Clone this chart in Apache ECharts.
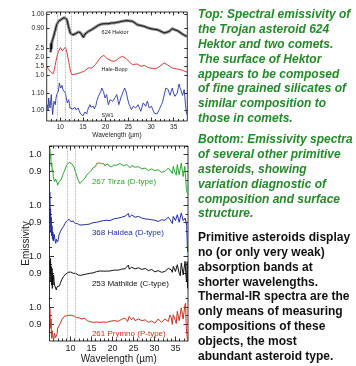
<!DOCTYPE html>
<html>
<head>
<meta charset="utf-8">
<title>Emissivity spectra of primitive asteroids</title>
<script src="https://cdn.jsdelivr.net/npm/echarts@6.0.0/dist/echarts.min.js"></script>
<style>
  html, body { margin: 0; padding: 0; background: #fff; }
  #wrap { position: relative; width: 356px; height: 366px; overflow: hidden; }
  #edge { position: absolute; left: 15px; top: 0; width: 2.5px; height: 366px; background: #8a8a8a; }
  #chart { position: absolute; left: 0; top: 0; width: 356px; height: 366px; }
</style>
</head>
<body>
<div id="wrap">
  <div id="edge"></div>
  <div id="chart"></div>
</div>
<script>
// ---- top panel: 624 Hektor and two comets ----
const topRange = [7, 38];
const topMajorTicks = [10, 15, 20, 25, 30, 35];
const topMinorTicks = [8, 9, 11, 12, 13, 14, 16, 17, 18, 19, 21, 22, 23, 24, 26, 27, 28, 29, 31, 32, 33, 34, 36, 37];
const topFeatureLines = [9.3, 11.2, 12.5];
const hektorTicks = [0.90, 1.00];
const haleBoppTicks = [1.0, 1.5, 2.0, 2.5];
const sw1Ticks = [1.00, 1.10];

// [wavelength µm, emissivity]
const hektor = [
  [7.88, 0.74], [7.95, 0.80], [8.05, 0.76], [8.15, 0.81], [8.3, 0.825], [8.45, 0.84], [8.6, 0.855],
  [8.75, 0.875], [8.9, 0.89], [9.05, 0.91], [9.2, 0.927], [9.4, 0.94], [9.6, 0.95], [9.8, 0.955],
  [10.0, 0.96], [10.2, 0.963], [10.4, 0.968], [10.6, 0.972], [10.8, 0.975], [11.0, 0.977], [11.2, 0.978],
  [11.4, 0.965], [11.6, 0.945], [11.8, 0.915], [12.0, 0.893], [12.2, 0.87], [12.4, 0.86], [12.7, 0.859],
  [13.0, 0.866], [13.25, 0.864], [13.6, 0.872], [14.0, 0.878], [14.5, 0.871], [14.8, 0.86], [15.1, 0.841],
  [15.45, 0.864], [15.8, 0.875], [16.2, 0.882], [16.6, 0.888], [16.9, 0.893], [17.3, 0.9], [17.7, 0.909],
  [18.0, 0.915], [18.4, 0.923], [18.8, 0.928], [19.1, 0.932], [19.5, 0.933], [19.9, 0.934], [20.3, 0.935],
  [20.6, 0.934], [21.0, 0.937], [21.3, 0.939], [21.9, 0.939], [22.4, 0.943], [23.0, 0.946], [23.5, 0.95],
  [24.0, 0.952], [24.5, 0.955], [24.8, 0.955], [25.4, 0.952], [25.9, 0.95], [26.5, 0.938], [27.0, 0.927],
  [27.7, 0.922], [28.5, 0.916], [29.2, 0.907], [30.0, 0.9], [30.7, 0.896], [31.4, 0.893], [32.2, 0.882],
  [32.9, 0.871], [33.5, 0.876], [34.0, 0.882], [34.7, 0.9], [35.3, 0.892], [35.8, 0.887], [36.4, 0.875],
  [36.9, 0.864], [37.4, 0.855], [37.9, 0.848]
];
const haleBopp = [
  [7.0, 1.5], [7.4, 1.35], [7.8, 1.22], [8.1, 1.13], [8.35, 1.1], [8.6, 1.25], [8.85, 1.55], [9.1, 1.85],
  [9.35, 2.12], [9.6, 2.32], [9.8, 2.42], [10.05, 2.52], [10.25, 2.45], [10.45, 2.35], [10.65, 2.38],
  [10.85, 2.44], [11.1, 2.54], [11.3, 2.42], [11.5, 2.2], [11.7, 1.95], [11.9, 1.7], [12.1, 1.42],
  [12.3, 1.2], [12.5, 1.07], [12.7, 1.055], [13.0, 1.07], [13.3, 1.09], [13.7, 1.11], [14.1, 1.13],
  [14.5, 1.17], [14.9, 1.2], [15.3, 1.25], [15.7, 1.3], [16.2, 1.42], [16.6, 1.46], [17.0, 1.42],
  [17.3, 1.5], [17.7, 1.6], [18.1, 1.72], [18.5, 1.86], [18.9, 2.0], [19.3, 2.09], [19.6, 2.1],
  [19.9, 2.02], [20.3, 1.93], [20.7, 1.86], [21.2, 1.81], [21.8, 1.78], [22.4, 1.84], [22.96, 1.96],
  [23.4, 2.03], [23.7, 2.05], [24.1, 2.01], [24.5, 1.93], [25.0, 1.8], [25.4, 1.7], [25.9, 1.6],
  [26.4, 1.62], [27.0, 1.63], [27.4, 1.55], [27.8, 1.51], [28.2, 1.55], [28.6, 1.56], [29.2, 1.46],
  [29.7, 1.42], [30.3, 1.4], [31.0, 1.38], [31.6, 1.45], [32.2, 1.56], [32.6, 1.64], [32.9, 1.69],
  [33.3, 1.66], [33.7, 1.58], [34.1, 1.48], [34.6, 1.42], [35.1, 1.4], [35.6, 1.37], [36.1, 1.35],
  [36.6, 1.32], [37.2, 1.27], [37.9, 1.2]
];
const sw1 = [
  [7.14, 1.034], [7.3, 1.0], [7.43, 1.072], [7.6, 1.04], [7.73, 1.015], [7.9, 1.06], [8.02, 1.091],
  [8.15, 1.03], [8.32, 0.978], [8.45, 1.02], [8.61, 1.053], [8.75, 1.06], [8.9, 1.034], [9.05, 1.07],
  [9.2, 1.091], [9.4, 1.1], [9.57, 1.109], [9.79, 1.156], [9.95, 1.14], [10.08, 1.128], [10.25, 1.135],
  [10.38, 1.143], [10.55, 1.12], [10.67, 1.109], [10.85, 1.12], [10.97, 1.128], [11.1, 1.1], [11.26, 1.081],
  [11.4, 1.06], [11.55, 1.044], [11.7, 1.055], [11.85, 1.062], [12.0, 1.04], [12.14, 1.015], [12.35, 1.02],
  [12.58, 1.025], [12.75, 1.01], [12.88, 1.006], [13.05, 1.015], [13.25, 1.019], [13.45, 1.005],
  [13.62, 1.006], [13.8, 1.01], [13.98, 1.015], [14.15, 1.0], [14.35, 0.987], [14.55, 0.99], [14.79, 0.978],
  [14.95, 0.97], [15.09, 0.959], [15.25, 0.98], [15.45, 0.993], [15.6, 0.99], [15.82, 0.981], [16.0, 1.0],
  [16.19, 1.015], [16.35, 1.02], [16.56, 1.034], [16.75, 1.02], [16.93, 1.015], [17.1, 1.025], [17.3, 1.025],
  [17.5, 1.01], [17.66, 1.006], [17.85, 1.03], [18.03, 1.053], [18.2, 1.065], [18.4, 1.081], [18.6, 1.085],
  [18.77, 1.091], [18.95, 1.11], [19.13, 1.128], [19.3, 1.12], [19.5, 1.109], [19.7, 1.09], [19.87, 1.072],
  [20.05, 1.08], [20.24, 1.091], [20.4, 1.06], [20.6, 1.034], [20.8, 1.045], [20.97, 1.062], [21.2, 1.058],
  [21.56, 1.053], [21.86, 1.062], [22.1, 1.075], [22.45, 1.091], [22.7, 1.06], [22.9, 1.034], [23.1, 1.05],
  [23.33, 1.072], [23.6, 1.09], [23.9, 1.109], [24.2, 1.128], [24.4, 1.115], [24.66, 1.091], [24.9, 1.06],
  [25.2, 1.034], [25.45, 1.02], [25.68, 1.006], [25.9, 1.015], [26.1, 1.025], [26.35, 1.02], [26.6, 1.015],
  [26.9, 1.025], [27.15, 1.034], [27.45, 1.015], [27.75, 0.997], [28.0, 1.02], [28.3, 1.044], [28.55, 1.035],
  [28.85, 1.025], [29.0, 1.04], [29.2, 1.053], [29.4, 1.035], [29.6, 1.015], [29.85, 1.02], [30.1, 1.025],
  [30.4, 1.005], [30.7, 0.987], [31.0, 0.985], [31.3, 0.981], [31.55, 0.99], [31.8, 1.006], [32.05, 1.02],
  [32.3, 1.034], [32.55, 1.05], [32.75, 1.072], [33.0, 1.1], [33.27, 1.128], [33.55, 1.125], [33.8, 1.119],
  [34.0, 1.1], [34.2, 1.087], [34.45, 1.11], [34.7, 1.128], [34.95, 1.1], [35.26, 1.081], [35.5, 1.09],
  [35.8, 1.1], [36.0, 1.13], [36.2, 1.151], [36.4, 1.13], [36.6, 1.119], [36.8, 1.1], [36.94, 1.087],
  [37.1, 1.1], [37.3, 1.119], [37.45, 1.08], [37.6, 1.034], [37.75, 1.0], [37.9, 0.978]
];

// ---- bottom panel: four primitive asteroids, stacked ----
const bottomRange = [5, 38];
const bottomMajorTicks = [10, 15, 20, 25, 30, 35];
const bottomMinorTicks = [6, 7, 8, 9, 11, 12, 13, 14, 16, 17, 18, 19, 21, 22, 23, 24, 26, 27, 28, 29, 31, 32, 33, 34, 36, 37];
const bottomFeatureLines = [9.3, 11.2];
const panelTicks = [0.9, 1.0];
const panelMinorTicks = [0.85, 0.95, 1.05];
const panelOffsets = [0, 0.3, 0.6, 0.9]; // Prymno, Mathilde, Haidea, Tirza

const tirza = [
  [5.12, 1.036], [5.2, 0.98], [5.3, 1.0], [5.36, 0.957], [5.45, 0.93], [5.55, 0.95], [5.67, 0.898],
  [5.8, 0.91], [5.9, 0.87], [5.99, 0.869], [6.1, 0.88], [6.2, 0.84], [6.31, 0.829], [6.45, 0.855],
  [6.62, 0.859], [6.8, 0.835], [6.94, 0.819], [7.1, 0.83], [7.26, 0.839], [7.4, 0.845], [7.57, 0.829],
  [7.75, 0.85], [7.89, 0.859], [8.1, 0.875], [8.29, 0.888], [8.5, 0.9], [8.68, 0.908], [8.9, 0.925],
  [9.08, 0.937], [9.3, 0.942], [9.47, 0.947], [9.65, 0.953], [9.87, 0.957], [10.05, 0.95], [10.27, 0.947],
  [10.45, 0.94], [10.66, 0.937], [10.85, 0.925], [11.06, 0.908], [11.25, 0.892], [11.45, 0.878],
  [11.65, 0.862], [11.85, 0.849], [12.05, 0.838], [12.24, 0.829], [12.45, 0.833], [12.64, 0.839],
  [12.85, 0.845], [13.04, 0.849], [13.25, 0.853], [13.43, 0.859], [13.63, 0.868], [13.83, 0.878],
  [14.0, 0.88], [14.22, 0.888], [14.42, 0.893], [14.62, 0.898], [14.82, 0.9], [15.02, 0.908], [15.2, 0.915],
  [15.41, 0.922], [15.6, 0.918], [15.81, 0.933], [16.0, 0.93], [16.2, 0.947], [16.4, 0.942], [16.6, 0.957],
  [16.8, 0.95], [17.0, 0.953], [17.2, 0.958], [17.39, 0.947], [17.6, 0.95], [17.79, 0.941], [18.0, 0.945],
  [18.18, 0.933], [18.4, 0.94], [18.58, 0.933], [18.8, 0.945], [18.97, 0.937], [19.2, 0.932], [19.4, 0.935],
  [19.77, 0.927], [20.0, 0.93], [20.3, 0.937], [20.56, 0.933], [21.03, 0.937], [21.4, 0.944], [21.82, 0.947],
  [22.2, 0.94], [22.62, 0.933], [23.0, 0.938], [23.41, 0.941], [23.8, 0.93], [24.2, 0.922], [24.6, 0.935],
  [24.99, 0.933], [25.4, 0.925], [25.78, 0.918], [26.2, 0.928], [26.57, 0.922], [27.0, 0.915], [27.37, 0.908],
  [27.8, 0.92], [28.16, 0.918], [28.55, 0.905], [28.95, 0.902], [29.35, 0.915], [29.74, 0.914], [30.1, 0.905],
  [30.53, 0.898], [30.9, 0.91], [31.33, 0.908], [31.7, 0.895], [32.12, 0.888], [32.5, 0.9], [32.91, 0.908],
  [33.3, 0.92], [33.7, 0.927], [34.0, 0.9], [34.26, 0.888], [34.5, 0.93], [34.73, 0.937], [34.95, 0.89],
  [35.2, 0.878], [35.45, 0.94], [35.68, 0.947], [35.9, 0.88], [36.16, 0.869], [36.4, 0.95], [36.63, 0.957],
  [36.85, 0.87], [37.1, 0.859], [37.25, 0.93], [37.42, 0.937], [37.6, 0.8], [37.74, 0.78], [37.9, 0.77]
];
const haidea = [
  [5.12, 1.08], [5.18, 0.9], [5.25, 0.98], [5.32, 0.84], [5.4, 0.93], [5.5, 0.82], [5.6, 0.88], [5.7, 0.8],
  [5.8, 0.844], [5.9, 0.79], [6.0, 0.785], [6.1, 0.83], [6.2, 0.825], [6.35, 0.79], [6.5, 0.776], [6.62, 0.8],
  [6.8, 0.805], [6.94, 0.785], [7.1, 0.8], [7.26, 0.825], [7.45, 0.835], [7.57, 0.844], [7.75, 0.85],
  [7.89, 0.86], [8.1, 0.865], [8.29, 0.874], [8.5, 0.88], [8.68, 0.893], [8.9, 0.9], [9.08, 0.907],
  [9.3, 0.905], [9.47, 0.91], [9.65, 0.918], [9.87, 0.913], [10.05, 0.905], [10.27, 0.903], [10.45, 0.908],
  [10.66, 0.907], [10.85, 0.9], [11.06, 0.893], [11.25, 0.897], [11.45, 0.899], [11.65, 0.892], [11.85, 0.888],
  [12.05, 0.886], [12.24, 0.884], [12.45, 0.882], [12.64, 0.88], [13.0, 0.885], [13.43, 0.888], [13.83, 0.887],
  [14.22, 0.893], [14.6, 0.89], [15.02, 0.893], [15.4, 0.898], [15.81, 0.903], [16.2, 0.9], [16.6, 0.907],
  [17.0, 0.905], [17.39, 0.913], [17.8, 0.91], [18.18, 0.907], [18.6, 0.912], [18.97, 0.913], [19.4, 0.91],
  [19.85, 0.919], [20.4, 0.921], [20.85, 0.923], [21.4, 0.925], [21.82, 0.927], [22.2, 0.93], [22.62, 0.933],
  [23.0, 0.936], [23.41, 0.939], [23.8, 0.952], [24.0, 0.93], [24.2, 0.923], [24.6, 0.943], [24.99, 0.94],
  [25.4, 0.93], [25.78, 0.927], [26.2, 0.935], [26.57, 0.933], [27.0, 0.925], [27.37, 0.919], [27.8, 0.92],
  [28.16, 0.913], [28.55, 0.918], [28.95, 0.923], [29.35, 0.915], [29.74, 0.907], [30.1, 0.912], [30.53, 0.913],
  [30.9, 0.905], [31.33, 0.903], [31.7, 0.915], [32.12, 0.923], [32.5, 0.912], [32.91, 0.907], [33.3, 0.93],
  [33.7, 0.933], [34.0, 0.905], [34.26, 0.893], [34.5, 0.935], [34.73, 0.943], [35.0, 0.91], [35.2, 0.903],
  [35.45, 0.945], [35.68, 0.952], [35.9, 0.9], [36.16, 0.893], [36.4, 0.955], [36.63, 0.962], [36.85, 0.91],
  [37.1, 0.903], [37.3, 0.925], [37.42, 0.933], [37.55, 0.9], [37.7, 0.88], [37.8, 0.785], [37.9, 0.726]
];
const mathilde = [
  [5.12, 0.968], [5.2, 0.9], [5.25, 0.987], [5.32, 0.85], [5.4, 0.94], [5.5, 0.83], [5.6, 0.928], [5.67, 0.81],
  [5.75, 0.9], [5.85, 0.83], [5.99, 0.889], [6.1, 0.85], [6.2, 0.83], [6.31, 0.84], [6.45, 0.82], [6.62, 0.801],
  [6.8, 0.82], [6.94, 0.83], [7.1, 0.815], [7.26, 0.81], [7.4, 0.825], [7.57, 0.84], [7.75, 0.85], [7.89, 0.86],
  [8.1, 0.87], [8.29, 0.879], [8.5, 0.885], [8.68, 0.889], [8.9, 0.895], [9.08, 0.899], [9.3, 0.902],
  [9.47, 0.905], [9.65, 0.907], [9.87, 0.909], [10.05, 0.907], [10.27, 0.905], [10.45, 0.902], [10.66, 0.899],
  [10.85, 0.903], [11.06, 0.905], [11.25, 0.899], [11.45, 0.893], [11.65, 0.891], [11.85, 0.889], [12.05, 0.886],
  [12.24, 0.885], [12.45, 0.887], [12.64, 0.889], [13.0, 0.891], [13.43, 0.893], [13.83, 0.895], [14.22, 0.897],
  [14.6, 0.899], [15.02, 0.905], [15.4, 0.902], [15.81, 0.905], [16.2, 0.909], [16.6, 0.906], [17.0, 0.913],
  [17.39, 0.909], [17.8, 0.912], [18.18, 0.916], [18.6, 0.912], [18.97, 0.909], [19.4, 0.913], [19.85, 0.913],
  [20.4, 0.918], [20.85, 0.92], [21.4, 0.918], [21.82, 0.92], [22.2, 0.924], [22.62, 0.928], [23.0, 0.926],
  [23.41, 0.932], [23.8, 0.948], [24.0, 0.924], [24.2, 0.924], [24.6, 0.935], [24.99, 0.938], [25.4, 0.925],
  [25.78, 0.918], [26.2, 0.932], [26.57, 0.932], [27.0, 0.922], [27.37, 0.918], [27.8, 0.928], [28.16, 0.924],
  [28.55, 0.915], [28.95, 0.913], [29.35, 0.922], [29.74, 0.918], [30.1, 0.908], [30.53, 0.905], [30.9, 0.915],
  [31.33, 0.913], [31.7, 0.905], [32.12, 0.899], [32.5, 0.91], [32.91, 0.913], [33.3, 0.928], [33.7, 0.928],
  [34.0, 0.92], [34.26, 0.905], [34.5, 0.94], [34.73, 0.948], [35.0, 0.91], [35.2, 0.899], [35.45, 0.95],
  [35.68, 0.958], [35.9, 0.9], [36.16, 0.885], [36.4, 0.96], [36.63, 0.968], [36.85, 0.89], [37.1, 0.879],
  [37.3, 0.97], [37.42, 0.977], [37.55, 0.87], [37.7, 0.85], [37.8, 0.968], [37.9, 0.81]
];
const prymno = [
  [5.12, 0.993], [5.2, 0.9], [5.3, 0.875], [5.36, 0.93], [5.45, 0.83], [5.55, 0.816], [5.65, 0.86],
  [5.74, 0.855], [5.85, 0.82], [5.99, 0.806], [6.1, 0.83], [6.2, 0.845], [6.31, 0.845], [6.45, 0.82],
  [6.62, 0.816], [6.8, 0.84], [6.94, 0.875], [7.1, 0.87], [7.26, 0.865], [7.4, 0.88], [7.57, 0.904],
  [7.75, 0.915], [7.89, 0.924], [8.1, 0.93], [8.29, 0.934], [8.5, 0.945], [8.68, 0.953], [8.9, 0.95],
  [9.08, 0.949], [9.3, 0.955], [9.47, 0.957], [9.65, 0.952], [9.87, 0.949], [10.05, 0.953], [10.27, 0.951],
  [10.45, 0.946], [10.66, 0.943], [10.85, 0.947], [11.06, 0.947], [11.25, 0.941], [11.45, 0.938], [11.65, 0.936],
  [11.85, 0.934], [12.05, 0.937], [12.24, 0.938], [12.45, 0.933], [12.64, 0.93], [13.0, 0.932], [13.43, 0.934],
  [13.83, 0.928], [14.0, 0.92], [14.22, 0.914], [14.42, 0.91], [14.62, 0.914], [15.02, 0.916], [15.41, 0.91],
  [15.81, 0.914], [16.2, 0.912], [16.6, 0.918], [17.0, 0.91], [17.39, 0.904], [17.8, 0.912], [18.18, 0.918],
  [18.6, 0.91], [18.97, 0.91], [19.4, 0.916], [19.85, 0.914], [20.4, 0.92], [20.85, 0.924], [21.4, 0.916],
  [21.82, 0.914], [22.2, 0.928], [22.62, 0.924], [23.0, 0.935], [23.41, 0.943], [23.6, 0.915], [23.8, 0.904],
  [24.0, 0.945], [24.2, 0.953], [24.6, 0.925], [24.99, 0.938], [25.4, 0.92], [25.78, 0.914], [26.2, 0.93],
  [26.57, 0.934], [27.0, 0.92], [27.37, 0.918], [27.8, 0.925], [28.16, 0.924], [28.55, 0.91], [28.95, 0.904],
  [29.35, 0.918], [29.74, 0.914], [30.1, 0.905], [30.53, 0.898], [30.9, 0.93], [31.33, 0.924], [31.7, 0.91],
  [32.12, 0.904], [32.5, 0.93], [32.91, 0.934], [33.3, 0.915], [33.5, 0.904], [33.7, 0.953], [34.0, 0.94],
  [34.26, 0.898], [34.5, 0.955], [34.73, 0.963], [35.0, 0.92], [35.2, 0.904], [35.45, 0.975], [35.68, 0.983],
  [35.9, 0.92], [36.16, 0.914], [36.4, 0.995], [36.63, 1.002], [36.85, 0.93], [37.1, 0.934], [37.25, 1.01],
  [37.42, 1.022], [37.6, 0.875], [37.75, 0.84], [37.9, 0.796]
];

// ---- caption text ----
const captionTop = [
  'Top: Spectral emissivity of', 'the Trojan asteroid 624', 'Hektor and two comets.',
  'The surface of Hektor', 'appears to be composed', 'of fine grained silicates of',
  'similar composition to', 'those in comets.'
];
const captionBottom = [
  'Bottom: Emissivity spectra', 'of several other primitive', 'asteroids, showing',
  'variation diagnostic of', 'composition and surface', 'structure.'
];
const captionNote = [
  'Primitive asteroids display', 'no (or only very weak)', 'absorption bands at',
  'shorter wavelengths.', 'Thermal-IR spectra are the', 'only means of measuring',
  'compositions of these', 'objects, the most', 'abundant asteroid type.'
];

const FONT = '"Liberation Sans", Arial, Helvetica, sans-serif';
const GREEN_TEXT = '#25892a';

// value range of a band so that value v1 sits at pixel p1 and v2 at p2
function bandRange(v1, p1, v2, p2, top, bottom) {
  const k = (v1 - v2) / (p2 - p1);
  return { min: v2 - (bottom - p2) * k, max: v1 + (p1 - top) * k };
}

const TOP_LEFT = 46.7, TOP_WIDTH = 140.6;
const BOT_LEFT = 49.5, BOT_WIDTH = 138.5;

const hektorY = bandRange(1.00, 14, 0.90, 28.7, 12, 42);
const haleBoppY = bandRange(2.5, 48, 1.0, 75.7, 42, 82);
const sw1Y = bandRange(1.10, 93, 1.00, 110.7, 82, 121);

const chart = echarts.init(document.getElementById('chart'), null, { renderer: 'canvas' });

function hiddenX(gridIndex, range) {
  return { type: 'value', gridIndex, min: range[0], max: range[1], show: false };
}

function tickX(gridIndex, range, position, ticks, len, label) {
  const ax = {
    type: 'value', gridIndex, position, min: range[0], max: range[1],
    axisLine: { show: false }, splitLine: { show: false },
    axisTick: { show: true, inside: true, length: len, customValues: ticks, lineStyle: { color: '#000', width: 0.8 } },
    axisLabel: { show: false }, nameMoveOverlap: false
  };
  if (label) Object.assign(ax, label);
  return ax;
}

function tickY(gridIndex, range, position, ticks, len, label) {
  const ax = {
    type: 'value', gridIndex, position, min: range.min, max: range.max,
    axisLine: { show: false }, splitLine: { show: false },
    axisTick: { show: true, inside: true, length: len, customValues: ticks, lineStyle: { color: '#000', width: 0.8 } },
    axisLabel: { show: false }, nameMoveOverlap: false
  };
  if (label) Object.assign(ax, label);
  return ax;
}

function yLabels(ticks, digits, size, margin) {
  return {
    axisLabel: {
      show: true, customValues: ticks, margin, fontSize: size, color: '#222', fontFamily: FONT,
      formatter: (v) => v.toFixed(digits)
    }
  };
}

const topXLabel = {
  axisLabel: { show: true, customValues: topMajorTicks, margin: 2.5, fontSize: 6.5, color: '#222', fontFamily: FONT },
  name: 'Wavelength (µm)', nameLocation: 'middle', nameGap: 10.5,
  nameTextStyle: { fontSize: 6.5, color: '#222', fontFamily: FONT }
};

// bottom panel label values include the stacking offset
const bottomLabelValues = panelOffsets.flatMap((o) => panelTicks.map((t) => +(t + o).toFixed(2)));
const bottomMinorValues = panelOffsets.flatMap((o) => panelMinorTicks.map((t) => +(t + o).toFixed(2)));
const bottomY = { min: 0.8, max: 1.95 };

const bottomXLabel = {
  axisLabel: { show: true, customValues: bottomMajorTicks, margin: 3, fontSize: 9, color: '#222', fontFamily: FONT },
  name: 'Wavelength (µm)', nameLocation: 'middle', nameGap: 13,
  nameTextStyle: { fontSize: 10, color: '#222', fontFamily: FONT }
};

function spectrum(name, data, color, xIdx, yIdx, width, labelAt, labelSize, labelColor) {
  return {
    name, type: 'line', data, xAxisIndex: xIdx, yAxisIndex: yIdx,
    showSymbol: false, clip: false, silent: true, z: 3,
    lineStyle: { color, width }, itemStyle: { color },
    markPoint: labelAt ? {
      silent: true, symbol: 'circle', symbolSize: 0, animation: false,
      data: [{ coord: labelAt, name }],
      label: {
        show: true, position: 'right', distance: 0, formatter: name,
        color: labelColor || color, fontSize: labelSize, fontFamily: FONT
      }
    } : undefined
  };
}

function featureLines(xIdx, yIdx, values) {
  return {
    type: 'line', data: [], xAxisIndex: xIdx, yAxisIndex: yIdx, silent: true,
    markLine: {
      silent: true, symbol: ['none', 'none'], animation: false,
      label: { show: false },
      lineStyle: { type: 'dotted', color: '#9a9a9a', width: 0.8 },
      data: values.map((x) => ({ xAxis: x }))
    }
  };
}

function shifted(data, offset) {
  return data.map(([w, e]) => [w, +(e + offset).toFixed(4)]);
}

function caption(lines, top, color, italic) {
  return {
    text: lines.join('\n'), left: 198, top, padding: 0,
    textStyle: {
      fontSize: 12, lineHeight: 14.8, fontWeight: 'bold', fontStyle: italic ? 'italic' : 'normal',
      color, fontFamily: FONT
    }
  };
}

const option = {
  animation: false,
  backgroundColor: '#fff',
  title: [
    caption(captionTop, 7.6, GREEN_TEXT, true),
    caption(captionBottom, 132.6, GREEN_TEXT, true),
    caption(captionNote, 230.5, '#111', false)
  ],
  grid: [
    { left: TOP_LEFT, top: 12, width: TOP_WIDTH, height: 109, show: true, borderColor: '#000', borderWidth: 0.8, outerBoundsMode: 'none' },
    { left: TOP_LEFT, top: 12, width: TOP_WIDTH, height: 30, outerBoundsMode: 'none' },
    { left: TOP_LEFT, top: 42, width: TOP_WIDTH, height: 40, outerBoundsMode: 'none' },
    { left: TOP_LEFT, top: 82, width: TOP_WIDTH, height: 39, outerBoundsMode: 'none' },
    { left: BOT_LEFT, top: 146, width: BOT_WIDTH, height: 195, show: true, borderColor: '#000', borderWidth: 0.8, outerBoundsMode: 'none' }
  ],
  xAxis: [
    tickX(0, topRange, 'bottom', topMajorTicks, 3.5, topXLabel),
    tickX(0, topRange, 'bottom', topMinorTicks, 2),
    tickX(0, topRange, 'top', topMajorTicks, 3.5),
    tickX(0, topRange, 'top', topMinorTicks, 2),
    hiddenX(1, topRange),
    hiddenX(2, topRange),
    hiddenX(3, topRange),
    tickX(4, bottomRange, 'bottom', bottomMajorTicks, 4.5, bottomXLabel),
    tickX(4, bottomRange, 'bottom', bottomMinorTicks, 2.5),
    tickX(4, bottomRange, 'top', bottomMajorTicks, 4.5),
    tickX(4, bottomRange, 'top', bottomMinorTicks, 2.5)
  ],
  yAxis: [
    { type: 'value', gridIndex: 0, min: 0, max: 1, show: false },
    tickY(1, hektorY, 'left', hektorTicks, 3, yLabels(hektorTicks, 2, 6.5, 2.5)),
    tickY(1, hektorY, 'right', hektorTicks, 3),
    tickY(2, haleBoppY, 'left', haleBoppTicks, 3, yLabels(haleBoppTicks, 1, 6.5, 2.5)),
    tickY(2, haleBoppY, 'right', haleBoppTicks, 3),
    tickY(3, sw1Y, 'left', sw1Ticks, 3, yLabels(sw1Ticks, 2, 6.5, 2.5)),
    tickY(3, sw1Y, 'right', sw1Ticks, 3),
    tickY(4, bottomY, 'left', bottomLabelValues, 4.5, {
      axisLabel: {
        show: true, customValues: bottomLabelValues, margin: 8, fontSize: 9, color: '#222', fontFamily: FONT,
        formatter: (v) => {
          const i = bottomLabelValues.findIndex((c) => Math.abs(c - v) < 1e-6);
          return panelTicks[i % panelTicks.length].toFixed(1);
        }
      },
      name: 'Emissivity', nameLocation: 'middle', nameGap: 18,
      nameTextStyle: { fontSize: 10, color: '#222', fontFamily: FONT }
    }),
    tickY(4, bottomY, 'left', bottomMinorValues, 2.5),
    tickY(4, bottomY, 'right', bottomLabelValues, 4.5),
    tickY(4, bottomY, 'right', bottomMinorValues, 2.5)
  ],
  series: [
    featureLines(0, 0, topFeatureLines),
    Object.assign(spectrum('hektor-err', hektor, '#8f8f8f', 4, 1, 3), { z: 2 }),
    spectrum('624 Hektor', hektor, '#000', 4, 1, 0.9, [19.1, 0.871], 5.5, '#222'),
    spectrum('Hale-Bopp', haleBopp, '#c8281e', 5, 3, 0.9, [19.1, 1.31], 5.5, '#222'),
    spectrum('SW1', sw1, '#2635a8', 6, 5, 0.9, [19.1, 0.974], 5.5, '#222'),
    featureLines(7, 7, bottomFeatureLines),
    spectrum('267 Tirza (D-type)', shifted(tirza, panelOffsets[3]), '#2ca52c', 7, 7, 1, [15.1, 0.84 + panelOffsets[3]], 8),
    spectrum('368 Haidea (D-type)', shifted(haidea, panelOffsets[2]), '#1f2d9c', 7, 7, 1, [15.1, 0.837 + panelOffsets[2]], 8),
    spectrum('253 Mathilde (C-type)', shifted(mathilde, panelOffsets[1]), '#111', 7, 7, 1, [15.1, 0.838 + panelOffsets[1]], 8),
    spectrum('261 Prymno (P-type)', shifted(prymno, panelOffsets[0]), '#c8321e', 7, 7, 1, [15.1, 0.843 + panelOffsets[0]], 8)
  ]
};

chart.setOption(option);
window.addEventListener('resize', () => chart.resize());
</script>
</body>
</html>
